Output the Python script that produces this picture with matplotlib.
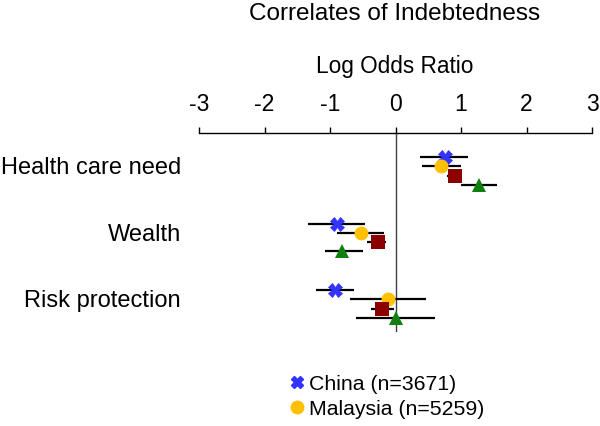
import matplotlib.pyplot as plt
import numpy as np
from matplotlib.lines import Line2D
from matplotlib.transforms import ScaledTranslation

plt.rcParams["font.family"] = ["Liberation Sans", "DejaVu Sans"]

# data (log odds ratio, lower CI, upper CI)
predictors = ["Health care need", "Wealth", "Risk protection"]

china_est = [0.75, -0.90, -0.93]
china_lo = [0.38, -1.34, -1.22]
china_hi = [1.11, -0.47, -0.64]

malaysia_est = [0.70, -0.53, -0.12]
malaysia_lo = [0.40, -0.90, -0.70]
malaysia_hi = [1.00, -0.18, 0.46]

series3_est = [0.91, -0.27, -0.20]
series3_lo = [0.78, -0.44, -0.38]
series3_hi = [1.02, -0.14, -0.03]

series4_est = [1.27, -0.81, 0.00]
series4_lo = [1.00, -1.08, -0.60]
series4_hi = [1.55, -0.50, 0.61]

xticks = [-3, -2, -1, 0, 1, 2, 3]

series = [
    (china_est, china_lo, china_hi, "X", "#3333ff", 10, "China (n=3671)"),
    (malaysia_est, malaysia_lo, malaysia_hi, "o", "#ffc000", 10, "Malaysia (n=5259)"),
    (series3_est, series3_lo, series3_hi, "s", "#8b0000", 10, None),
    (series4_est, series4_lo, series4_hi, "^", "#108010", 10, None),
]
offsets = [-0.21, -0.075, 0.075, 0.21]

fig = plt.figure(figsize=(6.0, 4.26), dpi=100)
W, H = 600, 426
left, right, top, bottom = 199, 592, 133, 332
ax = fig.add_axes([left / W, 1 - bottom / H, (right - left) / W, (bottom - top) / H])

ypos = np.arange(len(predictors))
for (est, lo, hi, mk, col, ms, lab), off in zip(series, offsets):
    y = ypos + off
    ax.hlines(y, lo, hi, color="black", lw=1.6, zorder=2)
    ax.plot(est, y, linestyle="none", marker=mk, color=col, markersize=ms,
            markeredgewidth=0 if mk != "X" else 0.5, zorder=3)

ax.axvline(0, color="#404040", lw=1.0, zorder=1)
ax.set_xlim(-3, 3)
ax.set_ylim((332 - 171) / 66.5, (133 - 171) / 66.5)

for s in ["bottom", "left", "right"]:
    ax.spines[s].set_visible(False)
ax.spines["top"].set_linewidth(1.0)
ax.xaxis.tick_top()
ax.set_xticks(xticks)
ax.set_xticklabels([str(t) for t in xticks], fontsize=16.5)
ax.tick_params(axis="x", direction="out", length=4, width=1, pad=8)
ax.set_yticks(ypos)
ax.set_yticklabels(predictors, fontsize=17)
ax.tick_params(axis="y", length=0, pad=13)
for lbl in ax.get_yticklabels():
    lbl.set_transform(lbl.get_transform() + ScaledTranslation(0, 5 / 100, fig.dpi_scale_trans))

fig.text(395 / W, 1 - 14 / H, "Correlates of Indebtedness", ha="center", va="center", fontsize=17.5)
fig.text(395 / W, 1 - 67 / H, "Log Odds Ratio", ha="center", va="center", fontsize=16.3)

handles = [Line2D([], [], linestyle="none", marker=s[3], color=s[4], markersize=9)
           for s in series if s[6]]
labels = [s[6] for s in series if s[6]]
fig.legend(handles, labels, loc="upper left", bbox_to_anchor=(282 / W, 1 - 366 / H),
           frameon=False, fontsize=15.3, handlelength=0.6, handletextpad=0.25,
           labelspacing=0.3, borderaxespad=0)

fig.savefig("out.png", dpi=100)
